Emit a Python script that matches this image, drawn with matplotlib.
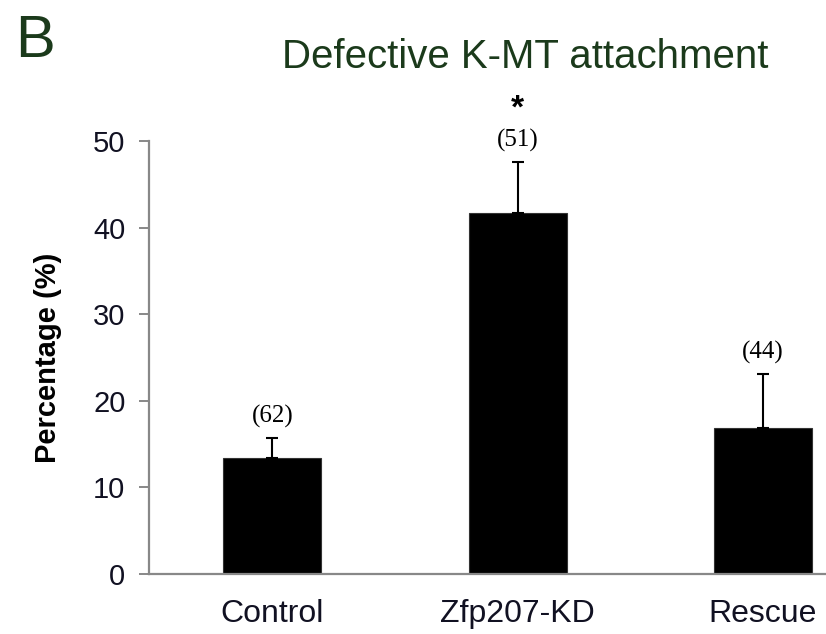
import numpy as np
import matplotlib.pyplot as plt

categories = ["Control", "Zfp207-KD", "Rescue"]
percent = [13.4, 41.7, 16.9]
err_up = [2.3, 5.9, 6.2]
n_cells = ["(62)", "(51)", "(44)"]
yticks = [0, 10, 20, 30, 40, 50]

plt.rcParams["font.family"] = ["Liberation Sans", "DejaVu Sans"]

fig = plt.figure(figsize=(8.26, 6.34), dpi=100)
ax = fig.add_axes([0.1804, 0.0946, 0.8196, 0.683])

x = np.arange(len(categories))
ax.bar(x, percent, width=0.40, color="black", edgecolor="#333333", linewidth=0.8, zorder=2)
ax.errorbar(x, percent, yerr=[np.zeros(len(x)), err_up], fmt="none",
            ecolor="black", elinewidth=1.5, capsize=4.3, capthick=1.5, zorder=3)

# sample sizes above the error bars
for xi, p, e, lab in zip(x, percent, err_up, n_cells):
    ax.annotate(lab, (xi, p + e), xytext=(0, 15.5), textcoords="offset points",
                ha="center", va="center", fontsize=18, family="Liberation Serif")

# significance star
ax.annotate("*", (x[1], percent[1] + err_up[1]), xytext=(0, 38), textcoords="offset points",
            ha="center", va="center", fontsize=24, fontweight="bold")

ax.set_xlim(-0.503, 2.257)
ax.set_ylim(0, 50)
ax.set_yticks(yticks)
ax.set_xticks(x)
ax.set_xticklabels(categories, fontsize=23, color="#111122")
ax.tick_params(axis="y", labelsize=21, labelcolor="#111122", direction="out",
               length=7, width=1.4, color="#888888", pad=10)
ax.tick_params(axis="x", length=0, pad=18)

for s in ["top", "right"]:
    ax.spines[s].set_visible(False)
for s in ["left", "bottom"]:
    ax.spines[s].set_color("#888888")
    ax.spines[s].set_linewidth(1.6)

ax.set_ylabel("Percentage (%)", fontsize=21, fontweight="bold", labelpad=22)

fig.text(0.636, 0.893, "Defective K-MT attachment", ha="center", va="baseline",
         fontsize=29, color="#1b3a1b")
fig.text(0.018, 1 - 57 / 634, "B", ha="left", va="baseline", fontsize=43, color="#1b3a1b")

fig.savefig("out.png", dpi=100, facecolor="white")
